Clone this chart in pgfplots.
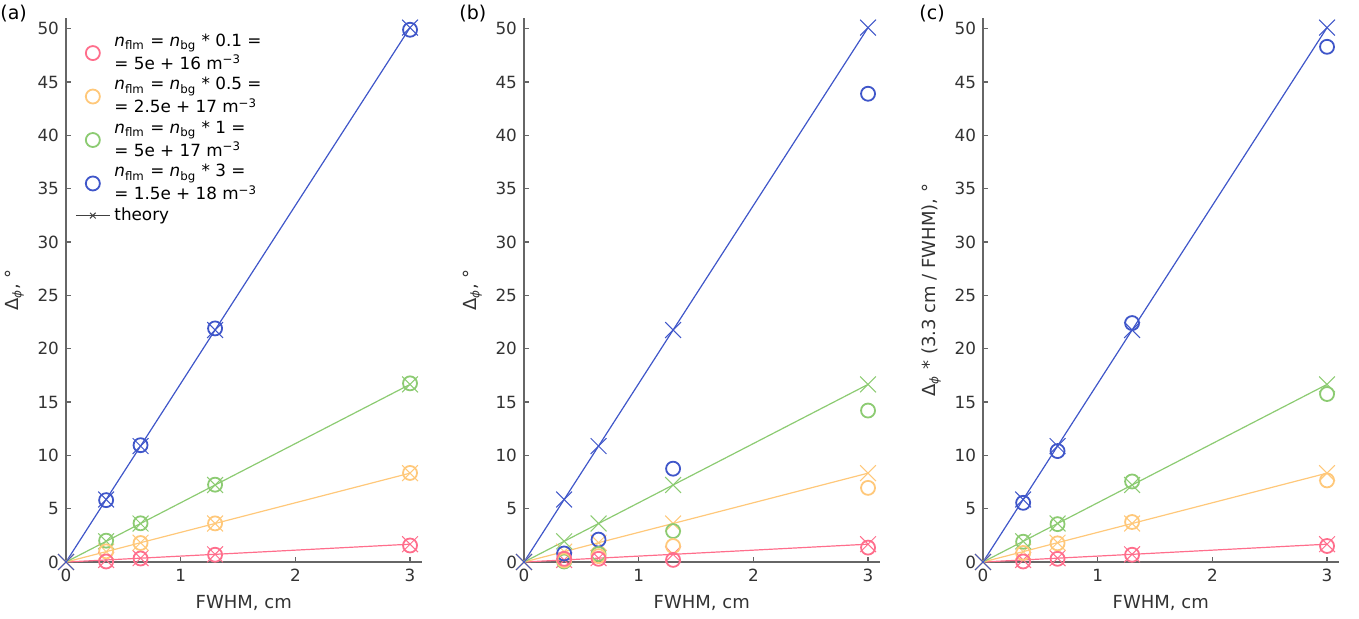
\documentclass[border=0pt]{standalone}
\usepackage{fontspec}
\setmainfont{DejaVu Sans}
\usepackage{pgfplots}
\usepackage{pgfplotstable}
\pgfplotsset{compat=1.18}
\definecolor{cpink}{HTML}{FF6E8C}
\definecolor{corange}{HTML}{FFC87A}
\definecolor{cgreen}{HTML}{8CCB72}
\definecolor{cblue}{HTML}{3F56C9}

% theory: straight lines through the origin
\pgfplotstableread{
x    pink orange green blue
0    0    0      0     0
0.35 0.19 0.97   1.94  5.86
0.65 0.36 1.81   3.61  10.87
1.3  0.72 3.61   7.22  21.75
3    1.67 8.33   16.65 50.1
}\theory

\pgfplotstableread{
x    pink orange green blue
0.35 0.05 1.00   2.00  5.80
0.65 0.33 1.78   3.63  10.95
1.3  0.68 3.62   7.25  21.90
3    1.55 8.35   16.75 49.90
}\measA

\pgfplotstableread{
x    pink orange green blue
0.35 0.30 0.15   0.05  0.80
0.65 0.30 0.55   0.75  2.10
1.3  0.20 1.50   2.90  8.75
3    1.35 6.95   14.20 43.90
}\measB

\pgfplotstableread{
x    pink orange green blue
0.35 0.05 0.85   1.90  5.55
0.65 0.30 1.75   3.55  10.40
1.3  0.68 3.75   7.55  22.40
3    1.50 7.65   15.75 48.30
}\measC

\pgfplotsset{
  panel/.style={
    scale only axis, width=177.75pt, height=272pt, anchor=south west,
    xmin=0, xmax=3.1, ymin=0, ymax=51,
    axis lines=left, axis line style={black!60, line width=0.6pt, -},
    tick align=inside, major tick length=2.5pt,
    tick style={black!60, line width=0.6pt},
    xtick={0,1,2,3}, ytick={0,5,...,50},
    tick label style={font=\fontsize{8.4}{10}\selectfont, text=black!80},
    label style={font=\fontsize{9}{11}\selectfont, text=black!80},
    /pgf/number format/assume math mode=true,
    xlabel={FWHM, cm},
    clip=false,
  },
  theo/.style={line width=0.6pt, mark=x, mark size=5.6pt,
    mark options={line width=0.5pt}, forget plot},
  meas/.style={only marks, mark=o, mark size=3.5pt,
    mark options={line width=0.9pt}, forget plot},
}

\newcommand{\drawtheory}{
  \addplot[theo, cpink]   table[x=x, y=pink]   {\theory};
  \addplot[theo, corange] table[x=x, y=orange] {\theory};
  \addplot[theo, cgreen]  table[x=x, y=green]  {\theory};
  \addplot[theo, cblue]   table[x=x, y=blue]   {\theory};
}
\newcommand{\drawmeas}[1]{
  \addplot[meas, cblue]   table[x=x, y=blue]   {#1};
  \addplot[meas, cgreen]  table[x=x, y=green]  {#1};
  \addplot[meas, corange] table[x=x, y=orange] {#1};
  \addplot[meas, cpink]   table[x=x, y=pink]   {#1};
}

\begin{document}
\begin{tikzpicture}
\useasboundingbox (0pt,0pt) rectangle (679.5pt,309pt);

\begin{axis}[panel, at={(33pt,28pt)},
  ylabel={Δ\textsubscript{\textit{ϕ}}, °},
  legend style={draw=none, fill=none, at={(0.025,0.979)}, anchor=north west,
    cells={anchor=west, align=left}, font=\fontsize{8.4}{11.5}\selectfont,
    inner sep=0pt, row sep=-1.5pt},
]
  \addlegendimage{only marks, mark=o, mark size=3.5pt, mark options={line width=0.9pt}, cpink}
  \addlegendentry{\textit{n}\textsubscript{flm} = \textit{n}\textsubscript{bg} * 0.1 =\\= 5e + 16 m\textsuperscript{−3}}
  \addlegendimage{only marks, mark=o, mark size=3.5pt, mark options={line width=0.9pt}, corange}
  \addlegendentry{\textit{n}\textsubscript{flm} = \textit{n}\textsubscript{bg} * 0.5 =\\= 2.5e + 17 m\textsuperscript{−3}}
  \addlegendimage{only marks, mark=o, mark size=3.5pt, mark options={line width=0.9pt}, cgreen}
  \addlegendentry{\textit{n}\textsubscript{flm} = \textit{n}\textsubscript{bg} * 1 =\\= 5e + 17 m\textsuperscript{−3}}
  \addlegendimage{only marks, mark=o, mark size=3.5pt, mark options={line width=0.9pt}, cblue}
  \addlegendentry{\textit{n}\textsubscript{flm} = \textit{n}\textsubscript{bg} * 3 =\\= 1.5e + 18 m\textsuperscript{−3}}
  \addlegendimage{black!75, line width=0.5pt, mark=x, mark size=2pt}
  \addlegendentry{theory}
  \drawtheory
  \drawmeas{\measA}
\end{axis}

\begin{axis}[panel, at={(262pt,28pt)},
  ylabel={Δ\textsubscript{\textit{ϕ}}, °}]
  \drawtheory
  \drawmeas{\measB}
\end{axis}

\begin{axis}[panel, at={(491.5pt,28pt)},
  ylabel={Δ\textsubscript{\textit{ϕ}} * (3.3 cm / FWHM), °}]
  \drawtheory
  \drawmeas{\measC}
\end{axis}

\node[anchor=north west, inner sep=0pt, font=\fontsize{9.5}{11}\selectfont] at (0pt,306.5pt) {(a)};
\node[anchor=north west, inner sep=0pt, font=\fontsize{9.5}{11}\selectfont] at (229.5pt,306.5pt) {(b)};
\node[anchor=north west, inner sep=0pt, font=\fontsize{9.5}{11}\selectfont] at (459.5pt,306.5pt) {(c)};
\end{tikzpicture}
\end{document}
